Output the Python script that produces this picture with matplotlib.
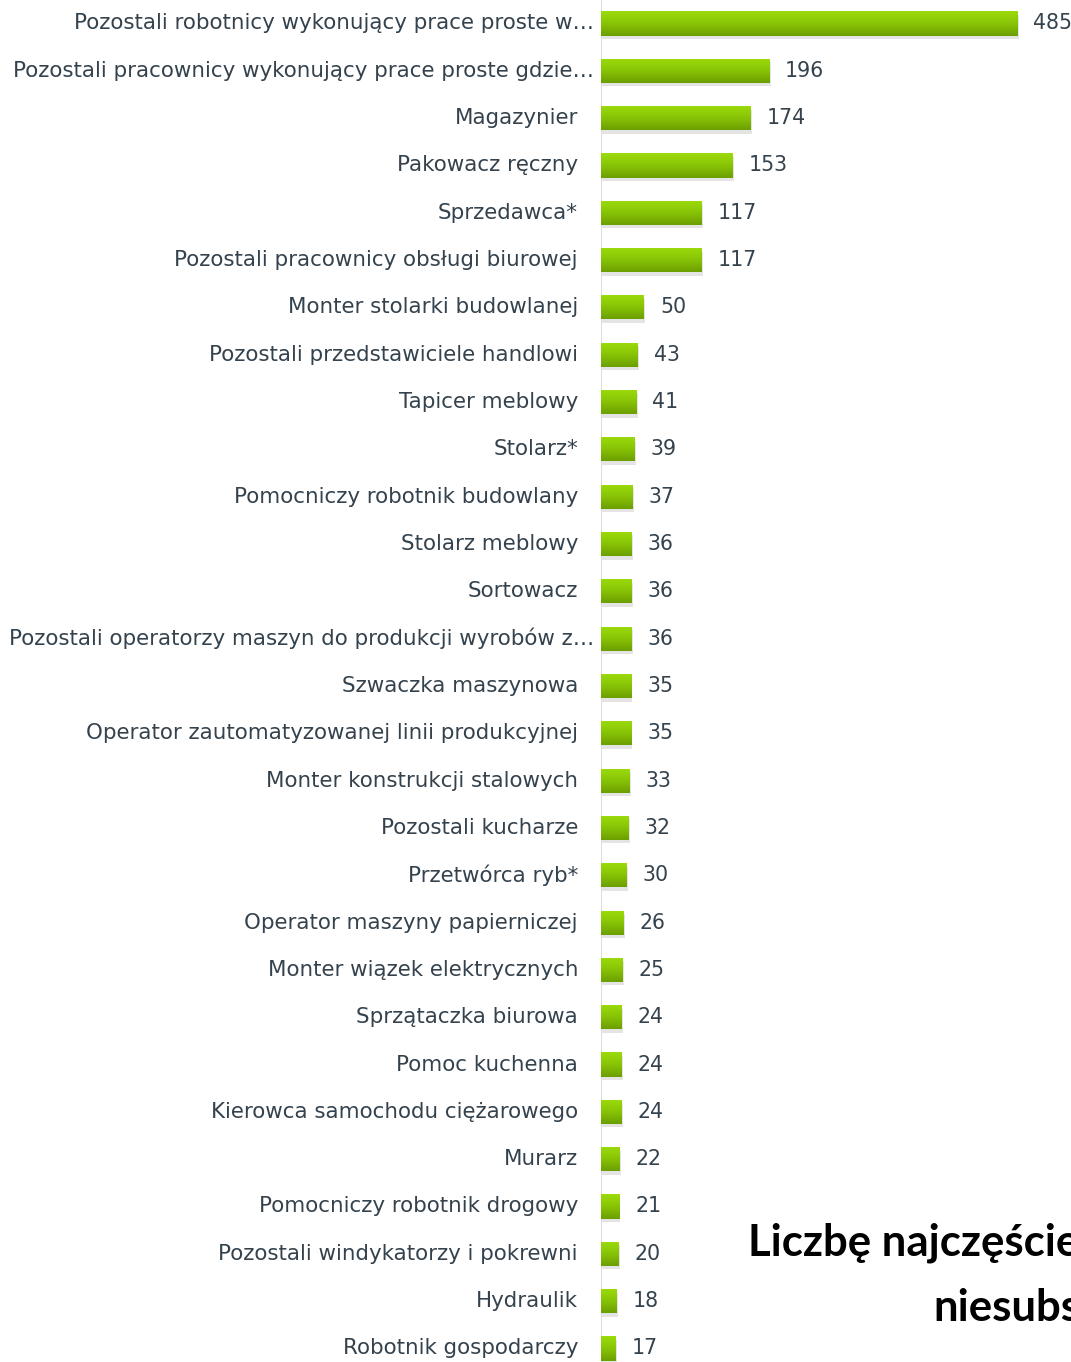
import matplotlib
matplotlib.use("Agg")
import matplotlib.pyplot as plt
import numpy as np
from matplotlib import patheffects as pe
from matplotlib.transforms import offset_copy, blended_transform_factory
from matplotlib.colors import LinearSegmentedColormap

categories = [
    "Pozostali robotnicy wykonujący prace proste w…",
    "Pozostali pracownicy wykonujący prace proste gdzie…",
    "Magazynier",
    "Pakowacz ręczny",
    "Sprzedawca*",
    "Pozostali pracownicy obsługi biurowej",
    "Monter stolarki budowlanej",
    "Pozostali przedstawiciele handlowi",
    "Tapicer meblowy",
    "Stolarz*",
    "Pomocniczy robotnik budowlany",
    "Stolarz meblowy",
    "Sortowacz",
    "Pozostali operatorzy maszyn do produkcji wyrobów z…",
    "Szwaczka maszynowa",
    "Operator zautomatyzowanej linii produkcyjnej",
    "Monter konstrukcji stalowych",
    "Pozostali kucharze",
    "Przetwórca ryb*",
    "Operator maszyny papierniczej",
    "Monter wiązek elektrycznych",
    "Sprzątaczka biurowa",
    "Pomoc kuchenna",
    "Kierowca samochodu ciężarowego",
    "Murarz",
    "Pomocniczy robotnik drogowy",
    "Pozostali windykatorzy i pokrewni",
    "Hydraulik",
    "Robotnik gospodarczy",
]
values = [485, 196, 174, 153, 117, 117, 50, 43, 41, 39, 37, 36, 36, 36, 35, 35,
          33, 32, 30, 26, 25, 24, 24, 24, 22, 21, 20, 18, 17]
title_line1 = "Liczbę najczęściej zgłaszanych ofert pracy"
title_line2 = "niesubsydiowanych"

W, H = 1071, 1362
fig = plt.figure(figsize=(W / 100, H / 100), dpi=100)
fig.patch.set_facecolor("white")

n = len(categories)
row_px = 47.32
top_px = 23.5 - row_px / 2
left_px = 601
ax_h_px = n * row_px
ax = fig.add_axes([left_px / W, 1 - (top_px + ax_h_px) / H, (W - left_px) / W, ax_h_px / H])
xmax = (W - left_px) / 0.858
ax.set_xlim(0, xmax)
ax.set_ylim(n - 0.5, -0.5)
ax.axis("off")
ax.axvline(-0.8, color="#d8e0e6", lw=2.2, zorder=1)

text_color = "#34424d"
fs = 15.4
fs_val = 14.8
y = np.arange(n)
bars = ax.barh(y, values, height=0.51, color="#84bd00", zorder=2,
               path_effects=[pe.SimplePatchShadow(offset=(1.0, -2.5), shadow_rgbFace="#888888", alpha=0.22),
                             pe.Normal()])

grad = np.linspace(0, 1, 64).reshape(-1, 1)
cmap = LinearSegmentedColormap.from_list("g", ["#9cdb0b", "#88c406", "#6c9f00"])
for b in bars:
    x0, y0 = b.get_x(), b.get_y()
    w, h = b.get_width(), b.get_height()
    im = ax.imshow(grad, cmap=cmap, aspect="auto", extent=(x0, x0 + w, y0 + h, y0),
                   origin="upper", zorder=3, interpolation="bicubic")
    im.set_clip_path(b)

trans = blended_transform_factory(ax.transAxes, ax.transData)
for i, (c, v) in enumerate(zip(categories, values)):
    dx = -7 if c.endswith("…") else -23
    ax.text(0, i, c, transform=offset_copy(trans, fig=fig, x=dx, y=0, units="dots"),
            ha="right", va="center", fontsize=fs, color=text_color, family="DejaVu Sans")
    ax.text(v, i, str(v), transform=offset_copy(ax.transData, fig=fig, x=16, y=0, units="dots"),
            ha="left", va="center", fontsize=fs_val, color=text_color, family="DejaVu Sans")

fig.text(748 / W, 1 - 1243 / H, title_line1, ha="left", va="center", fontsize=31.5,
         fontweight="bold", color="black", family="Lato")
fig.text(933 / W, 1 - 1308 / H, title_line2, ha="left", va="center", fontsize=31.5,
         fontweight="bold", color="black", family="Lato")

fig.savefig("out.png", dpi=100, facecolor="white")
